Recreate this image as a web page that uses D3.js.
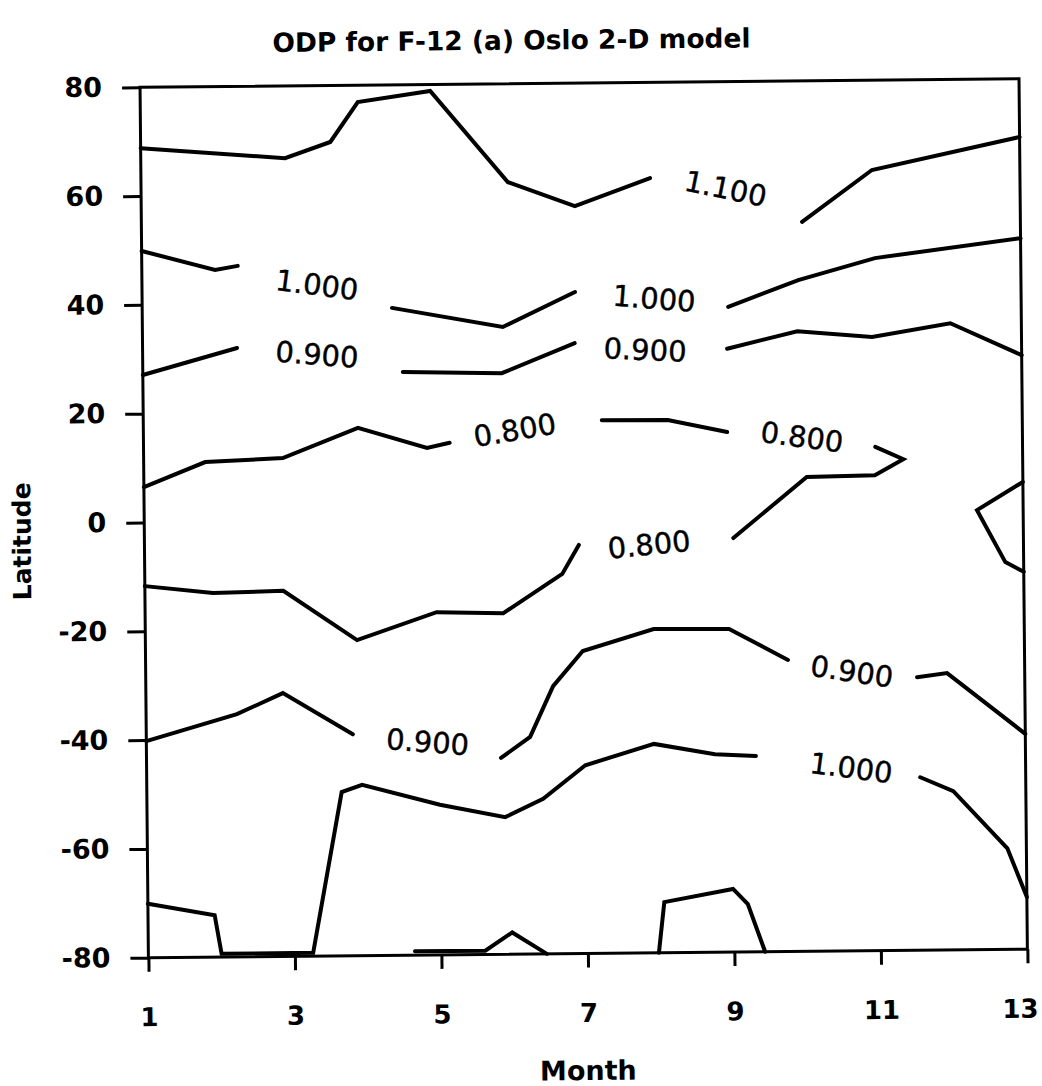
<!DOCTYPE html>
<html><head><meta charset="utf-8">
<script src="https://cdn.jsdelivr.net/npm/d3@7"></script>
<style>body{margin:0;background:#fff}</style>
</head><body>
<svg id="chart" width="1042" height="1086"></svg>
<script>
const chartTitle = "ODP for F-12 (a) Oslo 2-D model";
const xTitle = "Month";
const yTitle = "Latitude";
const monthTicks = [1, 3, 5, 7, 9, 11, 13];
const latTicks = [80, 60, 40, 20, 0, -20, -40, -60, -80];

// contour segments, points are [month, latitude]
const contour1100North = [
  [[1,68.8],[2.97,66.7],[3.59,69.6],[3.97,76.9],[4.96,78.8],[6.01,61.9],[6.92,57.4],[7.95,62.4]],
  [[10.02,54.1],[10.98,63.5],[13,69.3]]
];
const contour1000North = [
  [[1,49.9],[2.0,46.3],[2.31,47.0]],
  [[4.41,39.0],[5.92,35.3],[6.91,41.6]],
  [[9.0,38.6],[9.96,43.4],[11.01,47.3],[13,50.7]]
];
const contour0900North = [
  [[1,27.1],[2.29,31.9]],
  [[4.55,27.2],[5.90,26.8],[6.90,32.2]],
  [[8.98,30.9],[9.94,34.0],[10.96,32.8],[12.03,35.2],[13,29.2]]
];
const contour0800 = [
  [[1,6.5],[1.84,11.0],[2.90,11.6],[3.93,17.0],[4.87,13.2],[5.18,14.1]],
  [[7.26,18.0],[8.16,17.9],[8.97,15.6]],
  [[10.99,12.6],[11.37,10.3],[10.98,7.4],[10.05,7.2],[9.04,-3.9]],
  [[6.93,-4.9],[6.70,-10.2],[5.89,-17.3],[4.98,-17.0],[3.89,-22.0],[2.89,-12.8],[1.93,-13.1],[1,-11.7]]
];
const contour0800Edge = [
  [[13,5.9],[12.37,0.8],[12.75,-8.8],[13,-10.6]]
];
const contour0900South = [
  [[1,-40.2],[2.24,-35.4],[2.87,-31.6],[3.82,-39.3]],
  [[5.84,-43.9],[6.24,-40.1],[6.56,-30.8],[6.97,-24.4],[7.94,-20.5],[8.97,-20.6],[9.77,-26.4]],
  [[11.53,-29.8],[11.94,-29.1],[13,-40.4]]
];
const contour1000South = [
  [[1,-70.1],[1.91,-72.3],[2.0,-79.4],[3.25,-79.4],[3.66,-49.9],[3.94,-48.6],[5.0,-52.4],[5.89,-54.8],[6.41,-51.5],[6.99,-45.4],[7.93,-41.6],[8.76,-43.6],[9.32,-44.0]],
  [[11.56,-48.2],[12.01,-50.8],[12.74,-61.4],[13,-70.4]]
];
const contour1100South = [
  [[4.64,-79.3],[5.60,-79.3],[5.97,-76.0],[6.44,-80]],
  [[7.97,-80],[8.05,-70.7],[8.99,-68.4],[9.19,-71.2],[9.42,-80]]
];

const labelText  = ["1.100","1.000","0.900","1.000","0.900","0.800","0.800","0.800","0.900","0.900","1.000"];
const labelMonth = [8.98, 3.39, 3.38, 7.99, 7.86, 6.07, 9.99, 7.89, 4.84, 10.64, 10.62];
const labelLat   = [60.3, 43.3, 30.5, 40.2, 30.8, 16.3, 14.5, -5.0, -40.9, -28.7, -46.4];
const labelAngle = [12, 8, 5, 5, 3, -9, 8, -5, 5, 9, 8];

const svg = d3.select("#chart");
svg.append("rect").attr("width",1042).attr("height",1086).attr("fill","#fff");
const root = svg.append("g").attr("transform","rotate(-0.55,583.7,517.25)");

const x = d3.scaleLinear().domain([1,13]).range([144.2,1023.2]);
const y = d3.scaleLinear().domain([-80,80]).range([953.5,83]);

const font = "'DejaVu Sans', sans-serif";

// Y axis
const yAxis = d3.axisLeft(y).tickValues(latTicks).tickSize(18).tickPadding(20).tickFormat(d => String(d));
root.append("g").attr("transform",`translate(${x(1)},0)`).call(yAxis)
  .call(g => g.select(".domain").remove())
  .call(g => g.selectAll(".tick line").attr("stroke","#000").attr("stroke-width",3))
  .call(g => g.selectAll(".tick text").attr("fill","#000").attr("font-family",font)
      .attr("font-weight","bold").attr("font-size",27));

// X axis
const xAxis = d3.axisBottom(x).tickValues(monthTicks).tickSize(14).tickPadding(36).tickFormat(d => String(d));
root.append("g").attr("transform",`translate(0,${y(-80)})`).call(xAxis)
  .call(g => g.select(".domain").remove())
  .call(g => g.selectAll(".tick line").attr("stroke","#000").attr("stroke-width",3))
  .call(g => g.selectAll(".tick text").attr("fill","#000").attr("font-family",font)
      .attr("font-weight","bold").attr("font-size",26)
      .attr("dx", d => d === monthTicks[monthTicks.length-1] ? -8 : 0));

// frame
root.append("rect")
  .attr("x",x(1)).attr("y",y(80))
  .attr("width",x(13)-x(1)).attr("height",y(-80)-y(80))
  .attr("fill","none").attr("stroke","#000").attr("stroke-width",3);

// contours
const line = d3.line().x(d => x(d[0])).y(d => y(d[1]));
const allContours = [contour1100North, contour1000North, contour0900North, contour0800,
  contour0800Edge, contour0900South, contour1000South, contour1100South];
const cg = root.append("g");
allContours.forEach(level => {
  cg.selectAll(null).data(level).enter().append("path")
    .attr("d", line)
    .attr("fill","none").attr("stroke","#000").attr("stroke-width",4)
    .attr("stroke-linejoin","miter").attr("stroke-linecap","round");
});

// contour labels
const lg = root.append("g");
labelText.forEach((t,i) => {
  lg.append("text")
    .attr("transform",`translate(${x(labelMonth[i])},${y(labelLat[i])}) rotate(${labelAngle[i]})`)
    .attr("text-anchor","middle").attr("dominant-baseline","central")
    .attr("font-family",font).attr("font-size",29).attr("fill","#000")
    .attr("stroke","#000").attr("stroke-width",0.4)
    .text(t);
});

// titles
root.append("text").attr("x",516).attr("y",49).attr("text-anchor","middle")
  .attr("font-family",font).attr("font-weight","bold").attr("font-size",26.5).attr("fill","#000")
  .text(chartTitle);
root.append("text").attr("x",583).attr("y",1080).attr("text-anchor","middle")
  .attr("font-family",font).attr("font-weight","bold").attr("font-size",27).attr("fill","#000")
  .text(xTitle);
root.append("text").attr("transform","translate(22,536) rotate(-90)")
  .attr("text-anchor","middle").attr("dominant-baseline","central")
  .attr("font-family",font).attr("font-weight","bold").attr("font-size",25).attr("fill","#000")
  .text(yTitle);
</script>
</body></html>
